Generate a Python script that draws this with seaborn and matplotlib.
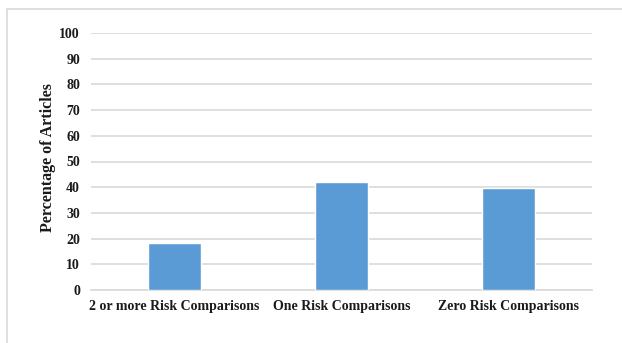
import matplotlib
matplotlib.use("Agg")
import matplotlib.pyplot as plt
from matplotlib.lines import Line2D
import seaborn as sns
import pandas as pd

categories = ["2 or more Risk Comparisons", "One Risk Comparisons", "Zero Risk Comparisons"]
percentages = [18.2, 42.0, 39.7]
y_ticks = [0, 10, 20, 30, 40, 50, 60, 70, 80, 90, 100]

df = pd.DataFrame({"category": categories, "percent": percentages})

sns.set_theme(style="white")
plt.rcParams["font.family"] = ["Liberation Serif", "DejaVu Serif"]

W, H = 622, 343
fig = plt.figure(figsize=(W / 100, H / 100), dpi=100)
ax = fig.add_axes([91 / W, 1 - 290 / H, (592 - 91) / W, (290 - 33) / H])

sns.barplot(data=df, x="category", y="percent", color="#5b9bd5", width=0.315,
            saturation=1, ax=ax, zorder=3)

ax.set_ylim(0, 100)
ax.set_xlim(-0.5, 2.5)
ax.set_yticks(y_ticks)
ax.set_yticklabels([str(t) for t in y_ticks], fontsize=10, fontweight="bold", color="#1a1a1a")
ax.set_xticks(range(len(categories)))
ax.set_xticklabels(categories, fontsize=10, fontweight="bold", color="#1a1a1a")
ax.tick_params(axis="y", length=0, pad=8)
ax.tick_params(axis="x", length=0, pad=7)
ax.set_xlabel("")
ax.set_ylabel("Percentage of Articles", fontsize=11.5, fontweight="bold", color="#1a1a1a")
ax.yaxis.set_label_coords(-35 / 501, 0.517)

ax.yaxis.grid(True, color="#d9d9d9", linewidth=1.2, zorder=0)
ax.set_axisbelow(True)
for side in ["top", "right", "left"]:
    ax.spines[side].set_visible(False)
ax.spines["bottom"].set_color("#d9d9d9")
ax.spines["bottom"].set_linewidth(1.2)

# light frame along the top and left of the figure
fig.add_artist(Line2D([7 / W, 1.0], [1 - 9 / H, 1 - 9 / H], color="#d9d9d9", linewidth=1.2,
                      transform=fig.transFigure))
fig.add_artist(Line2D([7 / W, 7 / W], [0.0, 1 - 9 / H], color="#d9d9d9", linewidth=1.2,
                      transform=fig.transFigure))

fig.savefig("out.png", dpi=100)
